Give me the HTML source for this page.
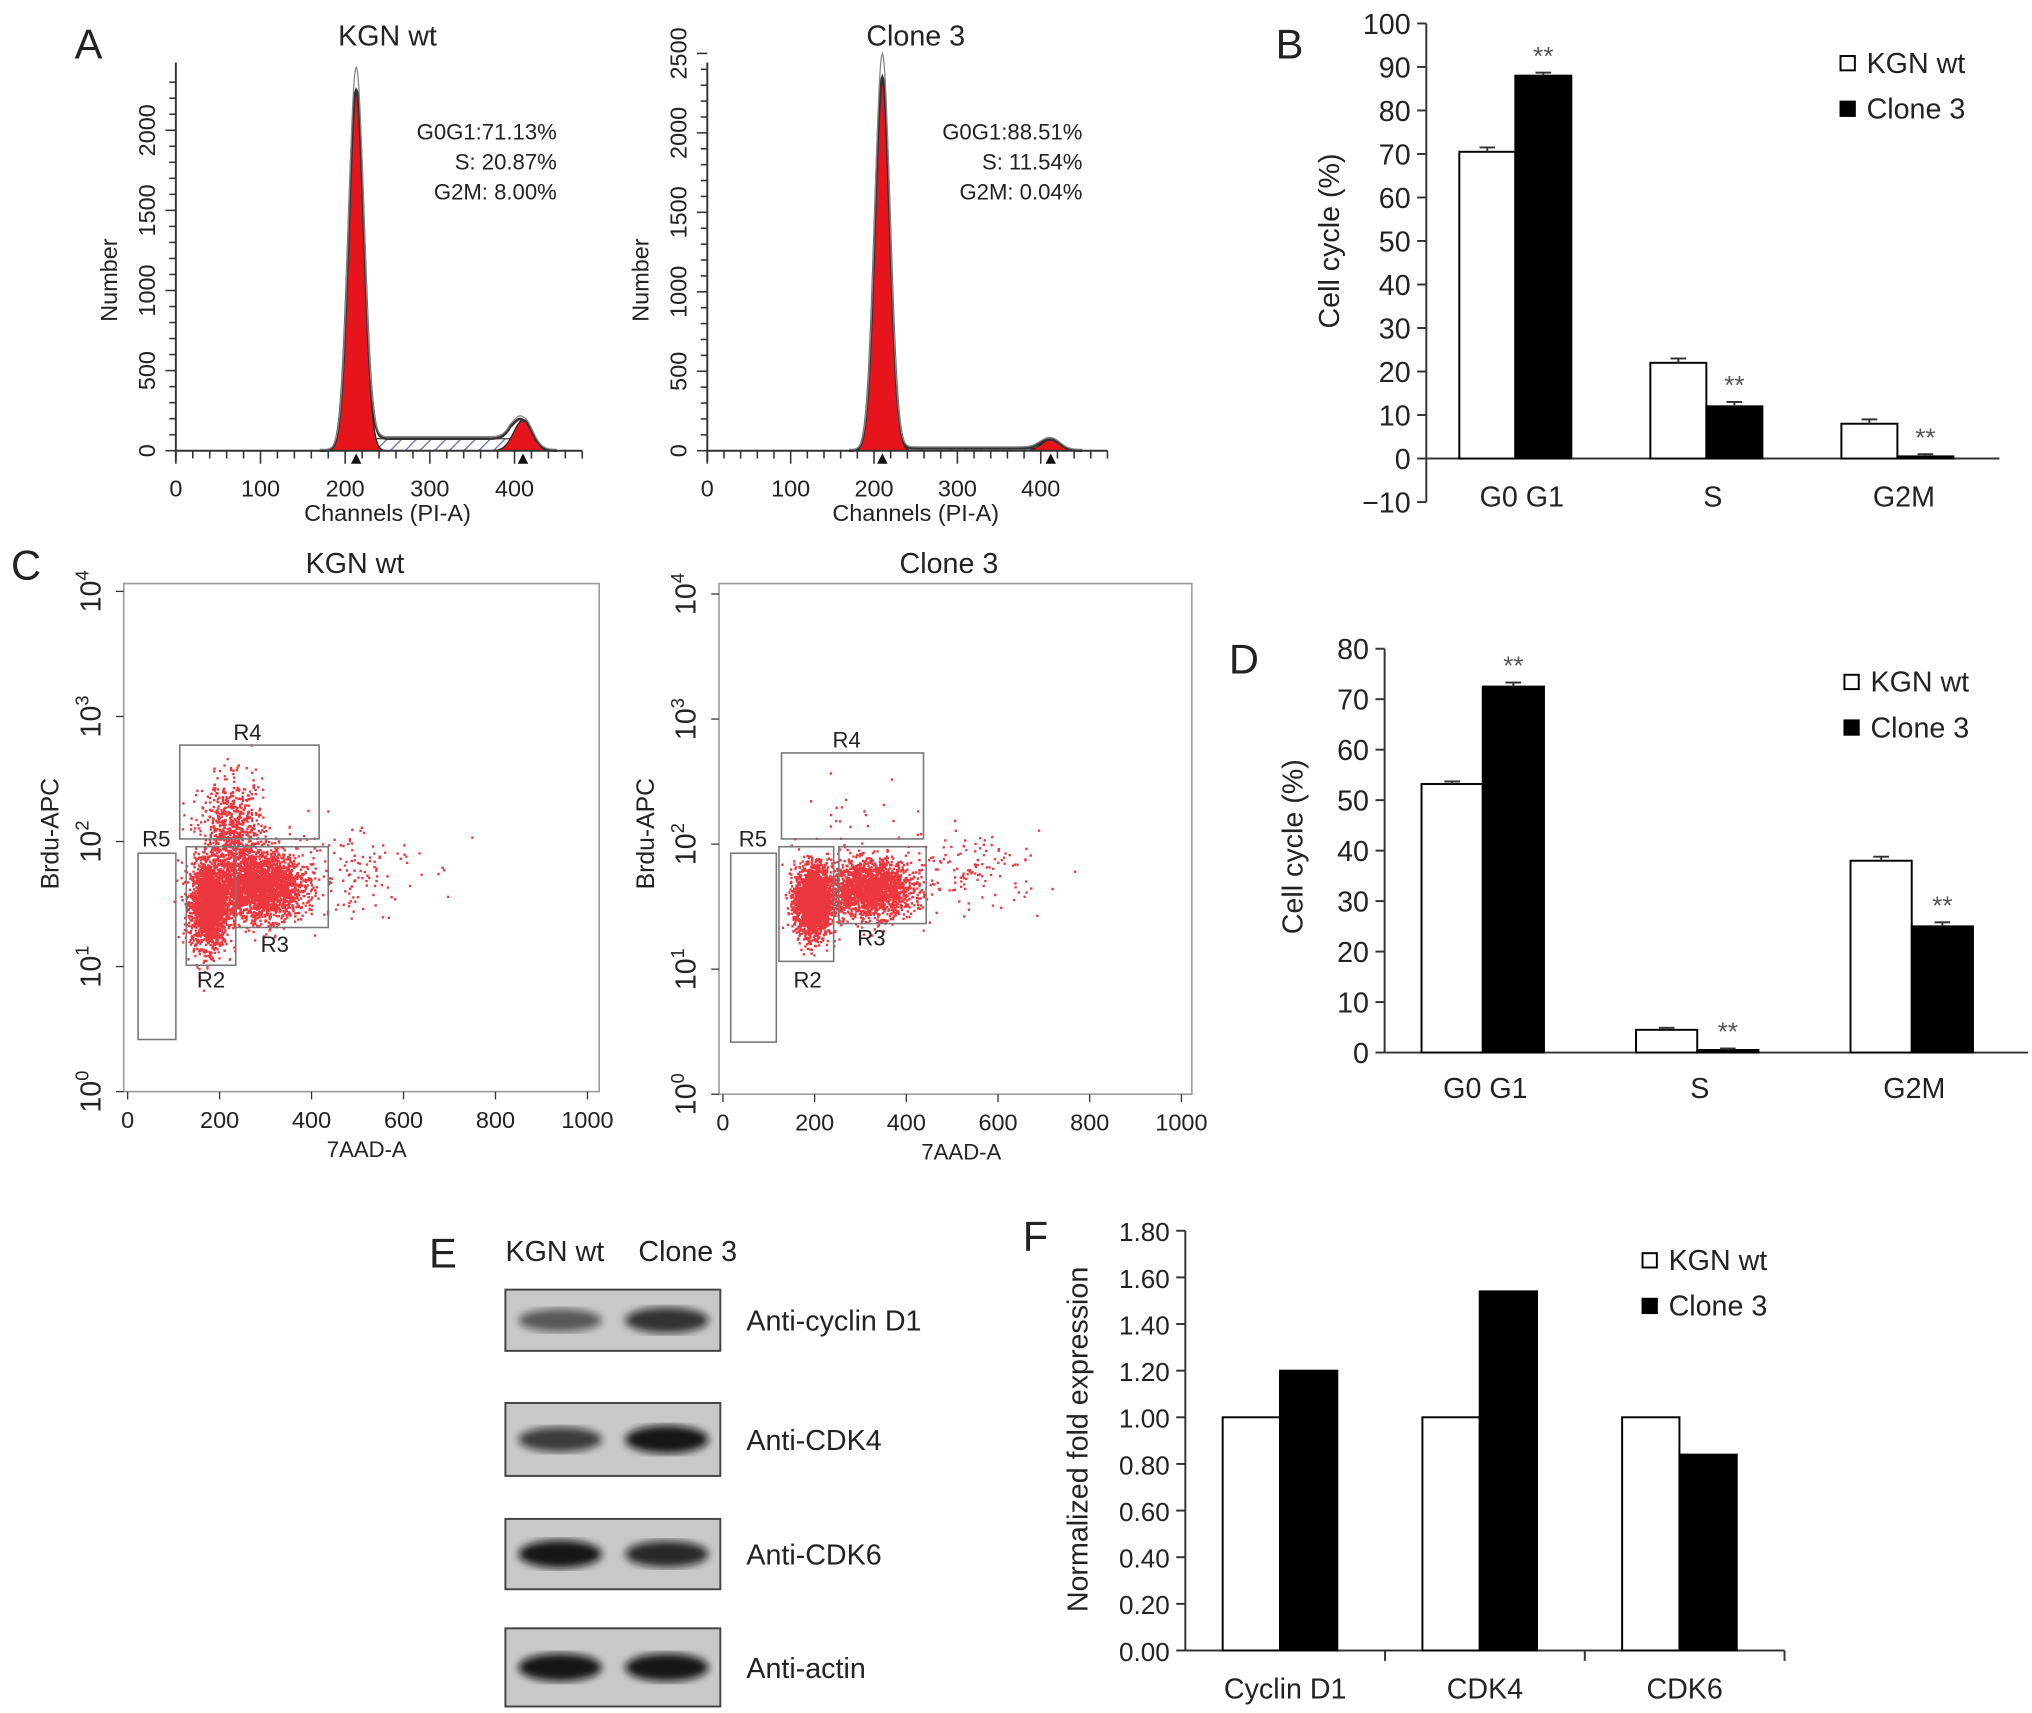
<!DOCTYPE html>
<html><head><meta charset="utf-8"><style>
html,body{margin:0;padding:0;background:#fff;}
svg{display:block;font-family:"Liberation Sans",Arial,sans-serif;}
</style></head><body>
<svg id="fig" width="2032" height="1713" viewBox="0 0 1560 1315" preserveAspectRatio="none" xmlns="http://www.w3.org/2000/svg">
<defs>
<pattern id="hatch" width="8" height="8" patternUnits="userSpaceOnUse" patternTransform="rotate(45)"><line x1="0" y1="0" x2="0" y2="8" stroke="#6670a8" stroke-width="2"/></pattern>
<filter id="blur"><feGaussianBlur stdDeviation="3"/></filter>
</defs>
<g id="root"></g>
</svg>
<script>
// ---------- data ----------
// Panel A histogram peaks: [center channel, height, sd]
const histWtPeaks = [[213, 2250, 9], [410, 190, 11]];
const histWtS = 75;
const histC3Peaks = [[210, 2350, 9], [412, 70, 11]];
const histC3S = 15;
const histWtText = ["G0G1:71.13%", "S: 20.87%", "G2M: 8.00%"];
const histC3Text = ["G0G1:88.51%", "S: 11.54%", "G2M: 0.04%"];
// Panel B
const bCats = ["G0 G1", "S", "G2M"];
const bWt = [70.5, 22, 8];
const bC3 = [88, 12, 0.5];
const bErrWt = [1, 1, 1];
const bErrC3 = [0.7, 1, 0.5];
const bTicks = [-10, 0, 10, 20, 30, 40, 50, 60, 70, 80, 90, 100];
// Panel D
const dCats = ["G0 G1", "S", "G2M"];
const dWt = [53.2, 4.5, 38];
const dC3 = [72.5, 0.5, 25];
const dErrWt = [0.5, 0.4, 0.8];
const dErrC3 = [0.8, 0.3, 0.8];
const dTicks = [0, 10, 20, 30, 40, 50, 60, 70, 80];
// Panel F
const fCats = ["Cyclin D1", "CDK4", "CDK6"];
const fWt = [1.0, 1.0, 1.0];
const fC3 = [1.2, 1.54, 0.84];
const fTicks = [0, 0.2, 0.4, 0.6, 0.8, 1.0, 1.2, 1.4, 1.6, 1.8];
// Panel C scatter clusters: [x center (7AAD), log10 y center, sdx, sdlog, count]
const scWtClusters = [[175, 1.50, 20, 0.17, 2200], [290, 1.65, 45, 0.13, 2400], [225, 2.05, 35, 0.22, 800], [450, 1.8, 90, 0.2, 150]];
const scC3Clusters = [[195, 1.55, 20, 0.14, 2200], [320, 1.65, 45, 0.11, 2000], [520, 1.8, 90, 0.15, 150], [300, 2.2, 60, 0.2, 20]];
// Panel E blot band intensities [wt, clone3]
const blotNames = ["Anti-cyclin D1", "Anti-CDK4", "Anti-CDK6", "Anti-actin"];
const blotWt = [0.6, 0.75, 0.95, 0.95];
const blotC3 = [0.8, 0.95, 0.85, 0.95];

const NS = "http://www.w3.org/2000/svg";
const root = document.getElementById('root');
function mk(tag, attrs, parent, txt) {
  const e = document.createElementNS(NS, tag);
  for (const k in attrs) e.setAttribute(k, attrs[k]);
  if (txt !== undefined) e.textContent = txt;
  (parent || root).appendChild(e);
  return e;
}
function txt(x, y, s, size, anchor, parent, rot) {
  const t = mk('text', {x: x, y: y, 'font-size': size, 'text-anchor': anchor || 'middle', fill: '#222'}, parent, s);
  if (rot) t.setAttribute('transform', `rotate(${rot} ${x} ${y})`);
  return t;
}
function line(x1, y1, x2, y2, parent, w, c) {
  return mk('line', {x1, y1, x2, y2, stroke: c || '#333', 'stroke-width': w || 1.5}, parent);
}

// ---------- Panel labels ----------
[["A", 68, 45], ["B", 990, 45], ["C", 20, 445], ["D", 955, 517], ["E", 340, 973], ["F", 795, 960]].forEach(p => {
  const t = txt(p[1], p[2], p[0], 32, 'middle');
  
  
});

// ---------- Panel A ----------
function histogram(x0, ppc, y0, ppn, maxN, peaks, sLevel, title, stats, name) {
  const g = mk('g', {});
  
  
  const X = c => x0 + c * ppc, Y = n => y0 - n * ppn;
  const gauss = (c, p) => p[1] * Math.exp(-0.5 * ((c - p[0]) / p[2]) ** 2);
  const sPart = c => {
    const a = peaks[0][0], b = peaks[1][0];
    if (c < a || c > b) return 0;
    const ramp = Math.min(1, (c - a) / 20, (b - c) / 15);
    return sLevel * ramp;
  };
  let sp = `M${X(peaks[0][0])},${Y(0)}`;
  for (let c = peaks[0][0]; c <= peaks[1][0]; c += 2) sp += ` L${X(c)},${Y(sPart(c))}`;
  sp += ` L${X(peaks[1][0])},${Y(0)} Z`;
  mk('path', {d: sp, fill: 'url(#hatch)', stroke: '#555', 'stroke-width': 1}, g);
  peaks.forEach(p => {
    let d = `M${X(p[0] - 4 * p[2])},${Y(0)}`;
    for (let c = p[0] - 4 * p[2]; c <= p[0] + 4 * p[2]; c += 1) d += ` L${X(c)},${Y(gauss(c, p))}`;
    d += ` L${X(p[0] + 4 * p[2])},${Y(0)} Z`;
    mk('path', {d, fill: '#e8141b', stroke: '#222', 'stroke-width': 1}, g);
  });
  let d = '';
  for (let c = 170; c <= 450; c += 1) {
    const n = gauss(c, peaks[0]) + gauss(c, peaks[1]) + sPart(c);
    d += (d ? ' L' : 'M') + X(c) + ',' + Y(n);
  }
  mk('path', {d, fill: 'none', stroke: '#333', 'stroke-width': 2}, g);
  let d2 = '';
  for (let c = 170; c <= 450; c += 1) {
    const n = (gauss(c, peaks[0]) + gauss(c, peaks[1]) + sPart(c)) * 1.06 + 8;
    d2 += (d2 ? ' L' : 'M') + X(c) + ',' + Y(n);
  }
  mk('path', {d: d2, fill: 'none', stroke: '#888', 'stroke-width': 1}, g);
  line(X(0), Y(0), X(480), Y(0), g);
  line(X(0), Y(0) + 8, X(0), 48, g);
  for (let c = 0; c <= 480; c += 20) line(X(c), Y(0), X(c), Y(0) + (c % 100 === 0 ? 10 : 6), g, 1.2);
  for (let c = 0; c <= 400; c += 100) txt(X(c), Y(0) + 35, String(c), 18, 'middle', g);
  for (let n = 0; n <= maxN; n += 100) line(X(0) - (n % 500 === 0 ? 8 : 5), Y(n), X(0), Y(n), g, 1.2);
  for (let n = 0; n <= maxN; n += 500) txt(X(0) - 16, Y(n), String(n), 18, 'middle', g, -90);
  txt(X(0) - 45, 215, 'Number', 18, 'middle', g, -90);
  txt(X(250), 400, 'Channels (PI-A)', 18, 'middle', g);
  txt(X(250), 35, title, 22, 'middle', g);
  stats.forEach((s, i) => txt(X(450), 107 + i * 23, s, 17, 'end', g));
  peaks.forEach(p => mk('path', {d: `M${X(p[0]) - 4},${Y(0) + 10} L${X(p[0]) + 4},${Y(0) + 10} L${X(p[0])},${Y(0) + 2} Z`, fill: '#111'}, g));
}
histogram(135, 0.65, 346, 0.123, 2300, histWtPeaks, histWtS, 'KGN wt', histWtText, 'histogram-kgn-wt');
histogram(543, 0.64, 346, 0.122, 2500, histC3Peaks, histC3S, 'Clone 3', histC3Text, 'histogram-clone3');

// ---------- Bar chart helper ----------
function barChart(o) {
  const g = mk('g', {});
  
  
  const Y = v => o.y0 - (v / o.unit) * o.ppu;
  line(o.x0, Y(o.ticks[0]), o.x0, Y(o.ticks[o.ticks.length - 1]), g);
  line(o.x0, Y(0), o.xEnd, Y(0), g);
  o.ticks.forEach(t => {
    line(o.x0 - 7, Y(t), o.x0, Y(t), g);
    const lab = o.fmt ? o.fmt(t) : (t < 0 ? '\u221210' : String(t));
    txt(o.x0 - 12, Y(t) + 8, lab, o.tickSize || 22, 'end', g);
  });
  const catW = (o.xEnd - o.x0) / o.cats.length;
  o.cats.forEach((c, i) => {
    const cx = o.x0 + catW * (i + 0.5);
    if (o.sep) line(o.x0 + catW * (i + 1), Y(0), o.x0 + catW * (i + 1), Y(0) + 8, g);
    const vals = [o.wt[i], o.c3[i]];
    vals.forEach((v, j) => {
      const x = cx - o.bw + j * o.bw + o.shift;
      const r = mk('rect', {x, y: Math.min(Y(v), Y(0)), width: o.bw, height: Math.abs(Y(0) - Y(v)), fill: j ? '#000' : '#fff', stroke: '#000', 'stroke-width': 1.5}, g);
      
      
      if (o.errWt) {
        const e = (j ? o.errC3 : o.errWt)[i];
        const bx = x + o.bw / 2;
        line(bx, Y(v + e), bx, Y(v), g, 1.5);
        line(bx - 6, Y(v + e), bx + 6, Y(v + e), g, 1.5);
      }
      if (j && o.stars) txt(x + o.bw / 2, Y(v + (o.errC3 ? o.errC3[i] : 0)) - 6, '**', 20, 'middle', g).setAttribute('fill', '#555');
    });
    txt(cx + o.labShift, Y(0) + o.labDy, c, 22, 'middle', g);
  });
  txt(o.titleX, o.titleY, o.title, 22, 'middle', g, -90);
  [['KGN wt', '#fff'], ['Clone 3', '#000']].forEach((l, k) => {
    mk('rect', {x: o.legX, y: o.legY + k * 35 - 13, width: 11, height: 11, fill: l[1], stroke: '#000', 'stroke-width': 1.5}, g);
    txt(o.legX + 20, o.legY + k * 35, l[0], 22, 'start', g);
  });
}
barChart({name: 'panel-b-cell-cycle-bar-chart', x0: 1095, xEnd: 1535, y0: 352, ppu: 33.4, unit: 10, ticks: bTicks, cats: bCats, wt: bWt, c3: bC3, errWt: bErrWt, errC3: bErrC3, bw: 43, shift: -5, stars: true, labShift: 0, labDy: 37, title: 'Cell cycle (%)', titleX: 1028, titleY: 185, legX: 1413, legY: 56});
barChart({name: 'panel-d-cell-cycle-bar-chart', x0: 1063, xEnd: 1557, y0: 808, ppu: 38.75, unit: 10, ticks: dTicks, cats: dCats, wt: dWt, c3: dC3, errWt: dErrWt, errC3: dErrC3, bw: 47, shift: -7, stars: true, labShift: -5, labDy: 35, title: 'Cell cycle (%)', titleX: 1000, titleY: 650, legX: 1416, legY: 531});
barChart({name: 'panel-f-expression-bar-chart', x0: 910, xEnd: 1370, y0: 1267, ppu: 17.9, unit: 0.1, ticks: fTicks, cats: fCats, wt: fWt, c3: fC3, bw: 44, shift: -4, stars: false, sep: true, labShift: 0, labDy: 37, tickSize: 20, fmt: t => t.toFixed(2), title: 'Normalized fold expression', titleX: 835, titleY: 1105, legX: 1261, legY: 975});

// ---------- Panel C scatter ----------
let seed = 12345;
function rnd() { seed = (seed * 1103515245 + 12345) % 2147483648; return seed / 2147483648; }
function nrm() { return Math.sqrt(-2 * Math.log(rnd() + 1e-9)) * Math.cos(2 * Math.PI * rnd()); }
function scatter(bx, by, bw, bh, x0, ppx, y0, ppd, clusters, title, gates, name) {
  const g = mk('g', {});
  
  
  mk('rect', {x: bx, y: by, width: bw, height: bh, fill: 'none', stroke: '#999', 'stroke-width': 1.2}, g);
  const X = v => x0 + v * ppx, Y = l => y0 - l * ppd;
  let d = '';
  clusters.forEach(c => {
    for (let i = 0; i < c[4]; i++) {
      const x = X(c[0] + nrm() * c[2]), y = Y(c[1] + nrm() * c[3]);
      if (x > bx && x < bx + bw && y > by && y < by + bh) d += `M${x.toFixed(1)},${y.toFixed(1)}h1.8v1.8h-1.8z`;
    }
  });
  mk('path', {d, fill: '#e8141b', opacity: 0.85}, g);
  gates.forEach(gt => {
    mk('rect', {x: gt[1], y: gt[2], width: gt[3] - gt[1], height: gt[4] - gt[2], fill: 'none', stroke: '#777', 'stroke-width': 1.2}, g);
    txt(gt[5], gt[6], gt[0], 17, 'middle', g);
  });
  for (let v = 0; v <= 1000; v += 200) { line(X(v), by + bh, X(v), by + bh + 6, g, 1); txt(X(v), by + bh + 28, String(v), 18, 'middle', g); }
  for (let l = 0; l <= 4; l++) {
    line(bx - 6, Y(l), bx, Y(l), g, 1);
    const t = mk('text', {x: bx - 18, y: Y(l), 'font-size': 22, 'text-anchor': 'middle', fill: '#222', transform: `rotate(-90 ${bx - 18} ${Y(l)})`}, g);
    t.textContent = '10';
    mk('tspan', {dy: -9, 'font-size': 14}, t, String(l));
  }
  txt(bx + bw / 2 - 5, by - 8, title, 22, 'middle', g);
  txt(bx - 50, 640, 'Brdu-APC', 19, 'middle', g, -90);
  txt(X(520), by + bh + 50, '7AAD-A', 17, 'middle', g);
}
scatter(95, 448, 365, 390, 98, 0.353, 838, 96, scWtClusters, 'KGN wt',
  [['R5', 106, 655, 135, 798, 120, 650], ['R2', 143, 650, 181, 741, 162, 758], ['R3', 181, 650, 252, 712, 211, 731], ['R4', 138, 572, 245, 644, 190, 568]], 'scatter-kgn-wt');
scatter(552, 448, 363, 392, 555, 0.352, 840, 96, scC3Clusters, 'Clone 3',
  [['R5', 561, 655, 596, 800, 578, 650], ['R2', 598, 650, 640, 738, 620, 758], ['R3', 644, 650, 711, 709, 669, 726], ['R4', 600, 578, 709, 644, 650, 574]], 'scatter-clone3');

// ---------- Panel E blots ----------
(function () {
  const g = mk('g', {});
  
  
  txt(426, 968, 'KGN wt', 22, 'middle', g);
  txt(528, 968, 'Clone 3', 22, 'middle', g);
  const boxes = [[990, 1037], [1077, 1133], [1166, 1220], [1250, 1310]];
  boxes.forEach((b, i) => {
    mk('rect', {x: 388, y: b[0], width: 165, height: b[1] - b[0], fill: '#c8c8c8', stroke: '#444', 'stroke-width': 1.5}, g);
    const cy = (b[0] + b[1]) / 2;
    [[430, blotWt[i]], [512, blotC3[i]]].forEach(p => {
      mk('ellipse', {cx: p[0], cy, rx: 32, ry: 5 + 6 * p[1], fill: '#111', opacity: p[1], filter: 'url(#blur)'}, g);
    });
    txt(573, cy + 8, blotNames[i], 22, 'start', g);
  });
})();
</script>
</body></html>
